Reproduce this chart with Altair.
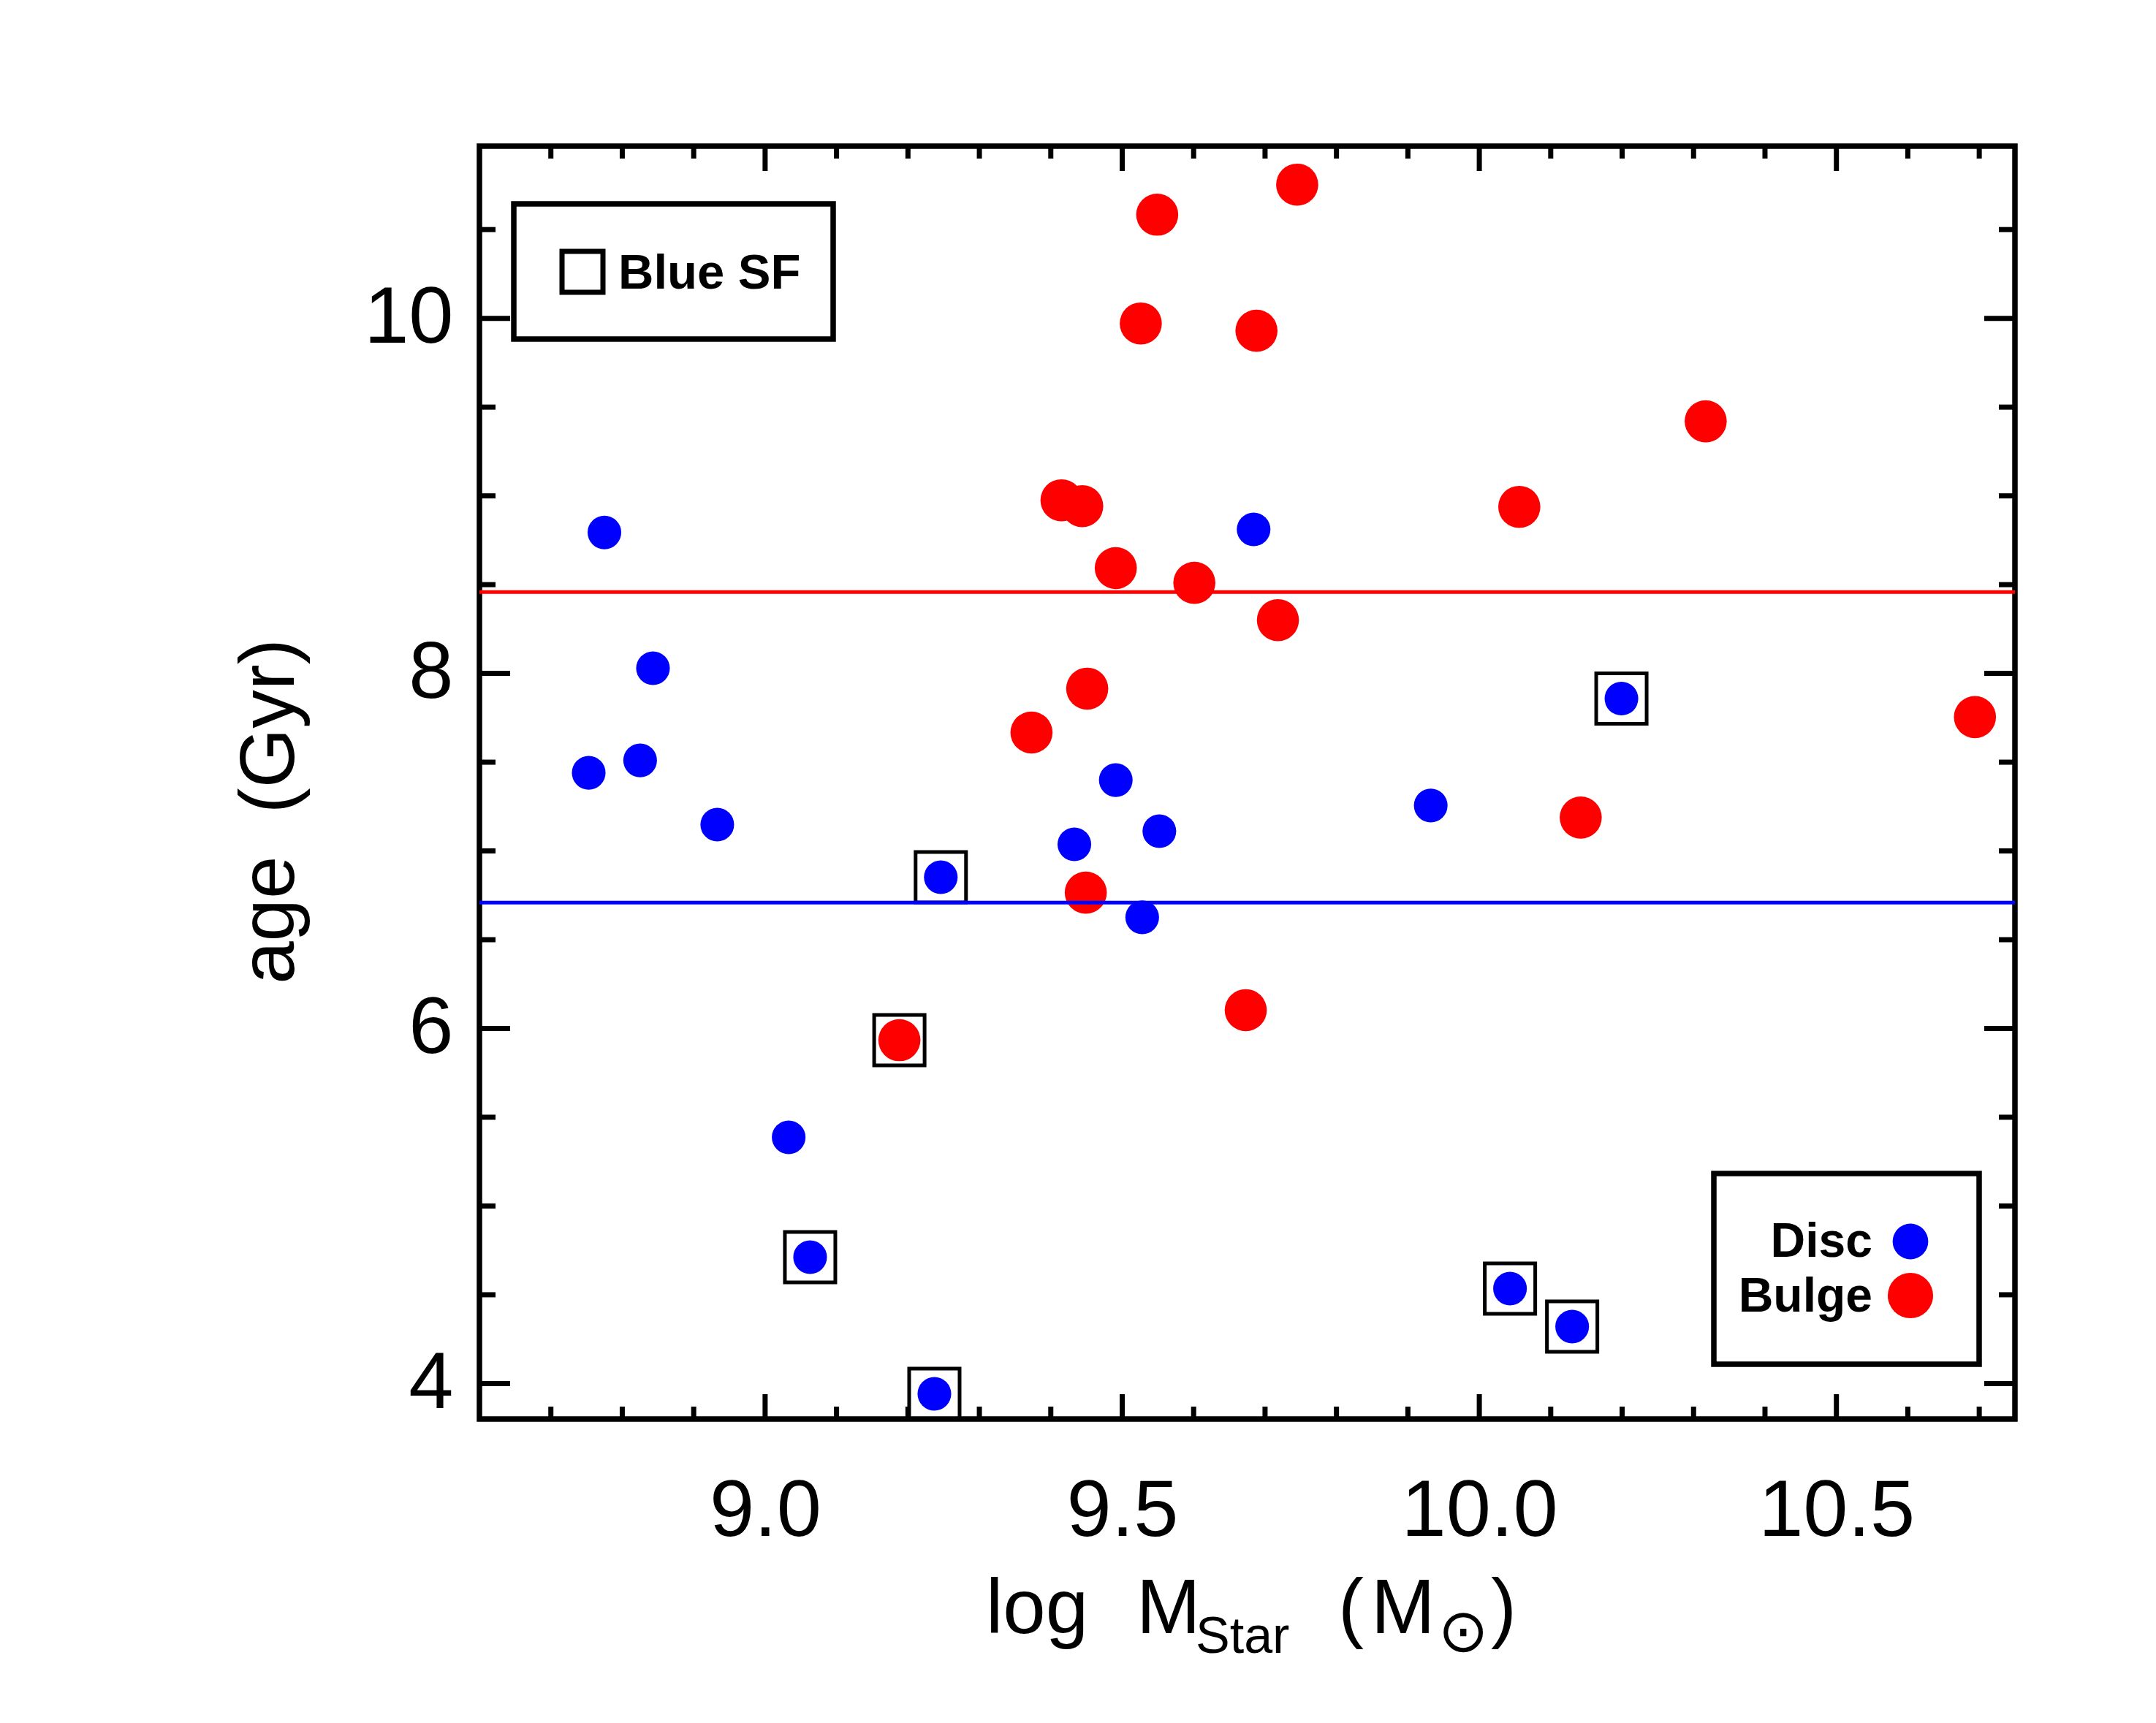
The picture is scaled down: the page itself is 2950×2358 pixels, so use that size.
import altair as alt
import pandas as pd

# ---------------- data ----------------
disc_mass = [8.775, 8.843, 8.753, 8.825, 8.933, 9.033, 9.063, 9.237, 9.246,
             9.433, 9.491, 9.552, 9.528, 9.684, 9.932, 10.043, 10.130, 10.199]
disc_age = [8.794, 8.029, 7.440, 7.510, 7.148, 5.387, 4.712, 3.942, 6.852,
            7.037, 7.399, 7.111, 6.626, 8.811, 7.256, 4.535, 4.321, 7.858]
disc_blue_sf = [False, False, False, False, False, False, True, True, True,
                False, False, False, False, False, False, True, True, True]

bulge_mass = [9.745, 9.549, 9.526, 9.688, 10.317, 9.415, 9.444, 10.056, 9.491,
              9.601, 9.718, 9.451, 9.373, 10.694, 10.142, 9.449, 9.673, 9.188]
bulge_age = [10.753, 10.584, 9.971, 9.930, 9.420, 8.975, 8.942, 8.938, 8.593,
             8.510, 8.300, 7.914, 7.667, 7.754, 7.188, 6.765, 6.103, 5.934]
bulge_blue_sf = [False] * 17 + [True]

components = ["Disc", "Bulge"]
x_major = [9.0, 9.5, 10.0, 10.5]
x_minor = [8.7, 8.8, 8.9, 9.1, 9.2, 9.3, 9.4, 9.6, 9.7, 9.8, 9.9,
           10.1, 10.2, 10.3, 10.4, 10.6, 10.7]
y_major = [4, 6, 8, 10]
y_minor = [4.5, 5, 5.5, 6.5, 7, 7.5, 8.5, 9, 9.5, 10.5]

# ---------------- build table ----------------
df = pd.DataFrame({
    "mass": disc_mass + bulge_mass,
    "age": disc_age + bulge_age,
    "component": ["Disc"] * len(disc_mass) + ["Bulge"] * len(bulge_mass),
    "blue_sf": disc_blue_sf + bulge_blue_sf,
})

W, H = 2101, 1742
FONT = "Liberation Sans"
BLUE, RED = "#0000ff", "#ff0000"

xscale = alt.Scale(domain=[8.6, 10.75], nice=False, zero=False)
yscale = alt.Scale(domain=[3.8, 10.97], nice=False, zero=False)

xaxis = alt.Axis(values=x_major, format=".1f", title=None, ticks=False, tickSize=0,
                 domain=False, grid=False, labelFont=FONT, labelFontSize=110,
                 labelColor="black", labelPadding=72, labelFlush=False,
                 labelLimit=0, labelOverlap=False)
yaxis = alt.Axis(values=y_major, format="d", title="age\u00a0\u00a0(Gyr)",
                 ticks=False, tickSize=0, domain=False, grid=False,
                 labelFont=FONT, labelFontSize=110, labelColor="black",
                 labelPadding=36, labelFlush=False, labelLimit=0,
                 labelOverlap=False,
                 titleFont=FONT, titleFontSize=105, titleFontWeight="normal",
                 titleColor="black", titleAngle=270, titleX=-255, titleY=910,
                 titleAlign="center", titleBaseline="alphabetic", titleLimit=0)

X = alt.X("mass:Q", scale=xscale, axis=xaxis)
Y = alt.Y("age:Q", scale=yscale, axis=yaxis)

base = alt.Chart(df)

disc_pts = base.transform_filter(alt.datum.component == "Disc").mark_circle(
    color=BLUE, opacity=1, size=2124).encode(x=X, y=Y)
bulge_pts = base.transform_filter(alt.datum.component == "Bulge").mark_circle(
    color=RED, opacity=1, size=3318).encode(x=X, y=Y)

boxes = base.transform_filter(alt.datum.blue_sf == True).mark_point(
    shape="square", filled=False, color="black", strokeWidth=5, size=4761,
    opacity=1).encode(x=X, y=Y)

means = base.mark_rule(strokeWidth=5).encode(
    y=alt.Y("mean(age):Q", scale=yscale, axis=yaxis),
    color=alt.Color("component:N", scale=alt.Scale(domain=components,
                                                   range=[BLUE, RED]),
                    legend=None),
)

# ---------------- inward ticks on all four sides ----------------
def xticks(vals, length):
    d = alt.Chart(pd.DataFrame({"v": vals}))
    xe = alt.X("v:Q", scale=xscale, axis=xaxis)
    bot = d.mark_rule(color="black", strokeWidth=7).encode(
        x=xe, y=alt.value(H), y2=alt.value(H - length))
    top = d.mark_rule(color="black", strokeWidth=7).encode(
        x=xe, y=alt.value(0), y2=alt.value(length))
    return [bot, top]


def yticks(vals, length):
    d = alt.Chart(pd.DataFrame({"v": vals}))
    ye = alt.Y("v:Q", scale=yscale, axis=yaxis)
    left = d.mark_rule(color="black", strokeWidth=7).encode(
        y=ye, x=alt.value(0), x2=alt.value(length))
    right = d.mark_rule(color="black", strokeWidth=7).encode(
        y=ye, x=alt.value(W - length), x2=alt.value(W))
    return [left, right]


tick_layers = xticks(x_major, 34) + xticks(x_minor, 17) + \
    yticks(y_major, 42) + yticks(y_minor, 22)

# ---------------- legends (decoration) ----------------
one = alt.Data(values=[{"k": 1}])


def txt(text, x, y, size, weight="normal", align="left", font=FONT):
    return alt.Chart(one).mark_text(
        text=text, font=font, fontSize=size, fontWeight=weight, align=align,
        baseline="alphabetic", color="black").encode(
        x=alt.value(x), y=alt.value(y))


leg1_box = alt.Chart(one).mark_rect(fill="white", stroke="black", strokeWidth=7.5).encode(
    x=alt.value(47), x2=alt.value(484), y=alt.value(79), y2=alt.value(264))
leg1_sym = alt.Chart(one).mark_point(shape="square", filled=False, color="black",
                                     strokeWidth=7, size=3136, opacity=1).encode(
    x=alt.value(141), y=alt.value(172))
leg1_txt = txt("Blue SF", 190, 195, 67, weight="bold")

leg2_box = alt.Chart(one).mark_rect(fill="white", stroke="black", strokeWidth=7.5).encode(
    x=alt.value(1689), x2=alt.value(2052), y=alt.value(1406), y2=alt.value(1667))
leg2_disc = alt.Chart(one).mark_circle(color=BLUE, opacity=1, size=2376).encode(
    x=alt.value(1958), y=alt.value(1499))
leg2_bulge = alt.Chart(one).mark_circle(color=RED, opacity=1, size=3848).encode(
    x=alt.value(1958), y=alt.value(1573))
leg2_t1 = txt("Disc", 1906, 1520, 66, weight="bold", align="right")
leg2_t2 = txt("Bulge", 1906, 1595, 66, weight="bold", align="right")

# ---------------- x-axis title with subscripts ----------------
xt = [
    txt("log", 693, 2035, 105),
    txt("M", 899, 2035, 105),
    txt("Star", 980, 2062, 70),
    txt("(", 1175, 2035, 105),
    txt("M", 1220, 2035, 105),
    txt("\u2299", 1312, 2060, 82, font="DejaVu Sans"),
    txt(")", 1384, 2035, 105),
]

chart = alt.layer(
    leg1_box, leg2_box,
    disc_pts, bulge_pts, boxes, means,
    *tick_layers,
    leg1_sym, leg1_txt, leg2_disc, leg2_bulge, leg2_t1, leg2_t2,
    *xt,
).properties(
    width=W, height=H,
    autosize=alt.AutoSizeParams(type="none"),
    padding={"left": 648, "top": 192, "right": 185, "bottom": 408},
    background="white",
).configure_view(stroke="black", strokeWidth=7.5)

chart.save("out.html", embed_options={"renderer": "svg", "actions": False})
